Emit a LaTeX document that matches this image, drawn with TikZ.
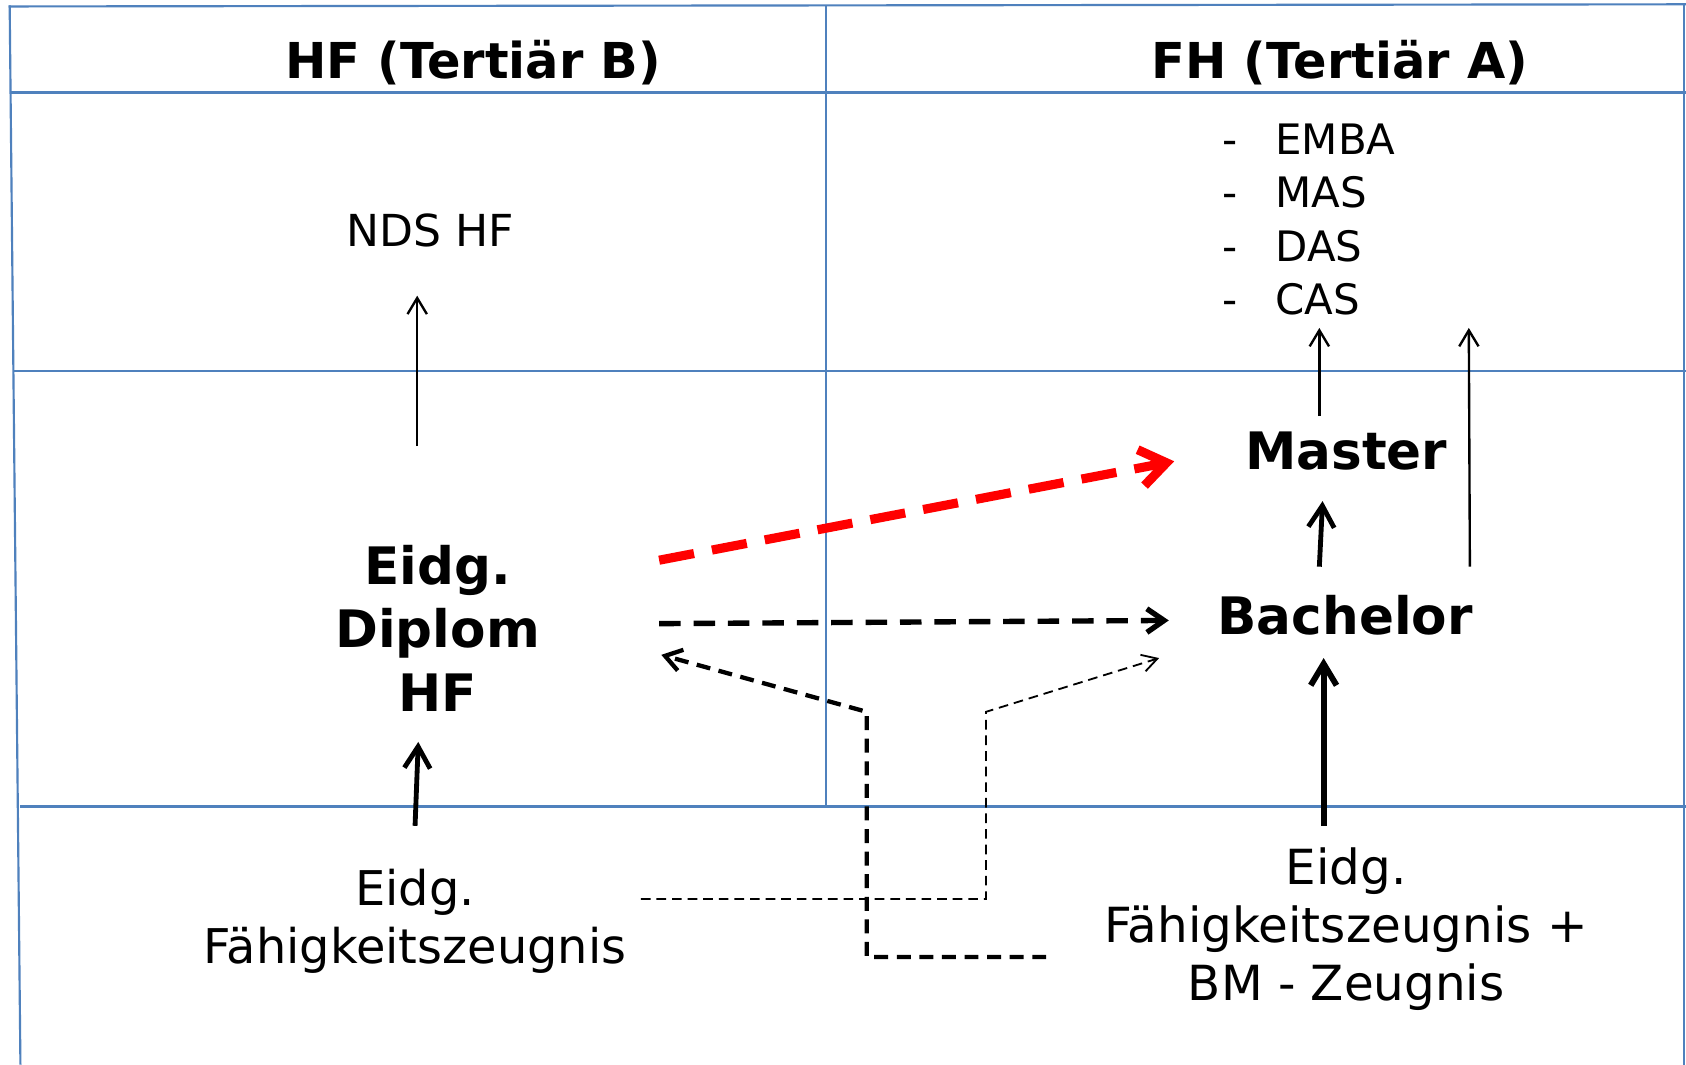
\documentclass[tikz,border=0pt]{standalone}
\usepackage{fontspec}
\setmainfont{DejaVu Sans}
\usetikzlibrary{arrows.meta}
\definecolor{gridblue}{HTML}{4F81BD}
\definecolor{arrred}{HTML}{FF0000}
\begin{document}
\begin{tikzpicture}[x=1pt,y=-1pt,
  gridline/.style={draw=gridblue,line width=2pt},
  hdr/.style={font=\fontsize{46}{52}\selectfont\bfseries,anchor=base,inner sep=0pt},
  bigbold/.style={font=\fontsize{48}{59}\selectfont\bfseries,inner sep=0pt,align=center},
  plain/.style={font=\fontsize{44.5}{54}\selectfont,inner sep=0pt,align=center},
  thinarr/.style={line width=2.2pt,-{Straight Barb[length=15pt,width=18pt]}},
  thickarr/.style={line width=5pt,-{Straight Barb[length=20pt,width=24pt]}},
  redarr/.style={draw=arrred,line width=8.5pt,dash pattern=on 33pt off 17pt,-{Straight Barb[length=24pt,width=34pt]}},
  blackdash/.style={line width=5pt,dash pattern=on 20pt off 12pt,-{Straight Barb[length=16pt,width=22pt]}},
  middash/.style={line width=4pt,dash pattern=on 13pt off 8pt,-{Straight Barb[length=15pt,width=20pt]}},
  finedash/.style={line width=1.7pt,dash pattern=on 9pt off 5.5pt,-{Straight Barb[length=14pt,width=16pt]}}
]
\useasboundingbox (0,0) rectangle (1568,990);
\fill[white] (0,0) rectangle (1568,990);

% grid
\draw[gridline] (8,6) -- (1568,4);
\draw[gridline] (9,5) -- (19,990);
\draw[gridline] (10,86) -- (1568,86);
\draw[gridline] (13,345) -- (1568,345);
\draw[gridline] (19,750) -- (1568,750);
\draw[gridline] (768,5) -- (768,750);
\draw[gridline] (1566,4) -- (1566,990);

% texts
\node[hdr] (hf) at (440,73) {HF (Tertiär B)};
\node[hdr] (fh) at (1246,73) {FH (Tertiär A)};
\node[font=\fontsize{41}{49}\selectfont,anchor=base,inner sep=0pt] (nds) at (400,229) {NDS HF};
\node[font=\fontsize{39}{49.5}\selectfont,anchor=north west,inner sep=0pt] (list) at (1137,109)
  {\begin{tabular}{@{}p{49pt}@{}l@{}}-&EMBA\\-&MAS\\-&DAS\\-&CAS\end{tabular}};
\node[bigbold,anchor=base] (master) at (1252,437) {Master};
\node[bigbold,anchor=base] (bachelor) at (1251,590) {Bachelor};
\node[bigbold] (diplom) at (407,584) {Eidg.\\Diplom\\HF};
\node[plain] (efz) at (386,857) {Eidg.\\Fähigkeitszeugnis};
\node[plain,font=\fontsize{45}{54}\selectfont] (efzbm) at (1252,864) {Eidg.\\Fähigkeitszeugnis +\\BM - Zeugnis};

% connector end points
\coordinate (ndsA) at (388,415);   \coordinate (ndsB) at (388,275);
\coordinate (dipA) at (386,768);   \coordinate (dipB) at (389,690);
\coordinate (casA) at (1227,387);  \coordinate (casB) at (1227,305);
\coordinate (rgtA) at (1367,527);  \coordinate (rgtB) at (1366,305);
\coordinate (baA) at (1227,527);   \coordinate (baB) at (1230,466);
\coordinate (bmA) at (1231,768);   \coordinate (bmB) at (1231,612);
\coordinate (redA) at (613,521);   \coordinate (redB) at (1092,429);
\coordinate (hzA) at (613,580);    \coordinate (hzB) at (1087,577);
\coordinate (mdA) at (973,890);    \coordinate (mdC1) at (806,890); \coordinate (mdC2) at (806,662); \coordinate (mdB) at (615,609);
\coordinate (fdA) at (596,836);    \coordinate (fdC1) at (917,836); \coordinate (fdC2) at (917,662); \coordinate (fdB) at (1078,612);

% connectors
\draw[thinarr] (ndsA) -- (ndsB);
\draw[thickarr,line width=4.5pt] (dipA) -- (dipB);
\draw[thinarr] (casA) -- (casB);
\draw[thinarr] (rgtA) -- (rgtB);
\draw[thickarr,line width=4.5pt] (baA) -- (baB);
\draw[thickarr,line width=5.5pt] (bmA) -- (bmB);
\draw[redarr] (redA) -- (redB);
\draw[blackdash] (hzA) -- (hzB);
\draw[middash] (mdA) -- (mdC1) -- (mdC2) -- (mdB);
\draw[finedash] (fdA) -- (fdC1) -- (fdC2) -- (fdB);
\end{tikzpicture}
\end{document}
